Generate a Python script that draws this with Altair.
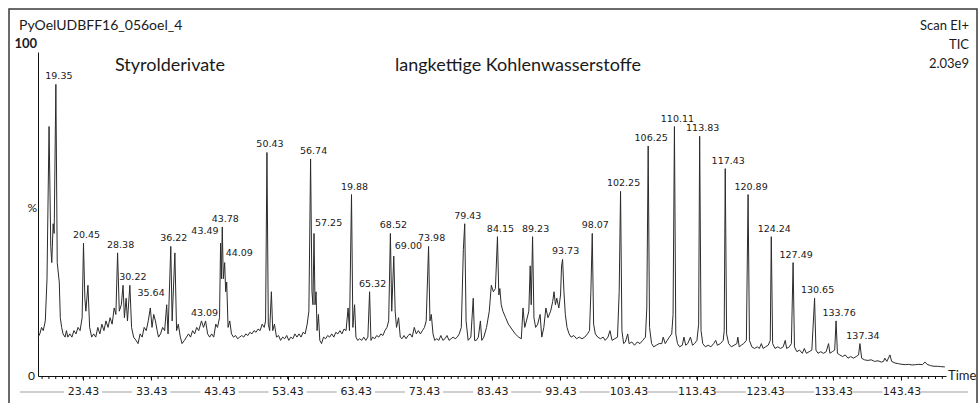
import altair as alt
import pandas as pd

# ---- chromatogram trace (retention time in min, relative intensity in %) ----
times = [16.85, 17.1, 17.35, 17.6, 17.9, 18.15, 18.45, 18.7, 18.85, 19.05, 19.2, 19.45, 19.65, 19.95, 20.1, 20.3, 20.5, 20.8,
         21.0, 21.2, 21.5, 21.8, 22.1, 22.4, 22.7, 23.0, 23.3, 23.5, 23.7, 23.85, 24.15, 24.4, 24.7, 25.0, 25.3, 25.6, 25.9,
         26.2, 26.5, 26.8, 27.1, 27.4, 27.7, 28.0, 28.25, 28.5, 28.75, 29.05, 29.3, 29.5, 29.75, 29.95, 30.3, 30.55, 30.85,
         31.2, 31.5, 31.8, 32.1, 32.4, 32.7, 33.0, 33.3, 33.55, 33.8, 34.05, 34.3, 34.5, 34.8, 35.1, 35.4, 35.7, 35.9, 36.3,
         36.5, 36.9, 37.15, 37.4, 37.7, 37.95, 38.3, 38.6, 38.9, 39.2, 39.5, 39.8, 40.1, 40.4, 40.8, 41.1, 41.4, 41.7, 42.0,
         42.3, 42.6, 42.9, 43.15, 43.45, 43.6, 43.72, 43.85, 44.0, 44.2, 44.35, 44.5, 44.7, 44.95, 45.2, 45.5, 45.8, 46.1,
         46.4, 46.7, 47.0, 47.3, 47.6, 47.9, 48.2, 48.5, 48.8, 49.1, 49.4, 49.7, 50.0, 50.2, 50.4, 50.6, 50.8, 51.05, 51.25,
         51.5, 51.8, 52.1, 52.4, 52.7, 53.0, 53.3, 53.6, 53.9, 54.2, 54.5, 54.8, 55.1, 55.4, 55.7, 56.0, 56.3, 56.55, 56.8,
         57.0, 57.15, 57.3, 57.45, 57.6, 57.75, 57.95, 58.15, 58.4, 58.7, 59.0, 59.3, 59.6, 59.9, 60.2, 60.5, 60.8, 61.1,
         61.4, 61.7, 62.0, 62.3, 62.5, 62.8, 63.0, 63.25, 63.45, 63.7, 64.0, 64.3, 64.6, 64.9, 65.2, 65.45, 65.65, 65.9,
         66.2, 66.5, 66.8, 67.1, 67.4, 67.7, 68.0, 68.25, 68.5, 68.7, 69.0, 69.2, 69.4, 69.7, 69.95, 70.2, 70.5, 70.8, 71.1,
         71.4, 71.7, 72.0, 72.3, 72.6, 72.9, 73.2, 73.5, 73.75, 74.1, 74.3, 74.5, 74.75, 75.0, 75.3, 75.6, 75.9, 76.2, 76.5,
         76.8, 77.1, 77.4, 77.7, 78.0, 78.3, 78.6, 78.9, 79.2, 79.4, 79.6, 79.9, 80.3, 80.65, 80.85, 81.1, 81.4, 81.7, 81.9,
         82.2, 82.6, 83.0, 83.3, 83.6, 83.9, 84.2, 84.4, 84.55, 84.75, 85.0, 85.4, 85.8, 86.3, 86.8, 87.3, 87.7, 87.95, 88.2,
         88.45, 88.8, 89.0, 89.15, 89.35, 89.55, 89.8, 90.1, 90.45, 90.7, 91.0, 91.3, 91.6, 92.0, 92.3, 92.5, 92.7, 92.9,
         93.2, 93.45, 93.6, 93.75, 93.95, 94.15, 94.4, 94.7, 95.0, 95.4, 95.8, 96.2, 96.6, 97.0, 97.4, 97.7, 97.9, 98.1, 98.3,
         98.55, 98.9, 99.3, 99.7, 100.0, 100.4, 100.7, 101.0, 101.4, 101.8, 102.05, 102.25, 102.45, 102.7, 102.95, 103.3,
         103.5, 103.9, 104.3, 104.7, 105.1, 105.5, 105.9, 106.1, 106.3, 106.5, 106.8, 107.1, 107.5, 107.9, 108.3, 108.5,
         108.8, 109.1, 109.4, 109.75, 109.95, 110.15, 110.35, 110.6, 110.9, 111.3, 111.55, 111.8, 112.1, 112.5, 112.8, 113.1,
         113.45, 113.7, 113.85, 114.05, 114.3, 114.7, 115.1, 115.5, 115.9, 116.2, 116.45, 116.9, 117.3, 117.45, 117.6, 117.8,
         118.1, 118.5, 118.9, 119.3, 119.45, 119.65, 119.95, 120.3, 120.7, 120.95, 121.15, 121.5, 121.9, 122.3, 122.6, 122.9,
         123.15, 123.5, 123.9, 124.2, 124.35, 124.55, 124.9, 125.3, 125.7, 126.1, 126.4, 126.6, 127.0, 127.3, 127.55, 127.75,
         128.1, 128.5, 128.9, 129.2, 129.5, 129.9, 130.3, 130.7, 130.9, 131.2, 131.6, 132.0, 132.4, 132.75, 132.95, 133.3,
         133.65, 133.85, 134.05, 134.4, 134.8, 135.2, 135.6, 136.0, 136.4, 136.8, 137.15, 137.35, 137.6, 138.0, 138.5, 139.0,
         139.5, 140.0, 140.5, 140.8, 141.0, 141.3, 141.75, 142.0, 142.5, 143.0, 143.5, 144.0, 144.5, 145.0, 145.5, 146.0,
         146.5, 146.9, 147.2, 147.7, 148.2, 148.7, 149.2, 149.8]
intensity = [12, 13, 15, 14, 17, 30, 77, 40, 35, 47, 44, 90, 35, 29, 18, 15, 13, 12,
             14, 12, 13, 12, 14, 13, 15, 14, 18, 41, 24, 20, 28, 15, 12, 13, 12, 15, 13,
             16, 14, 17, 15, 18, 16, 21, 19, 38, 20, 22, 28, 18, 24, 17, 28, 15, 12,
             11, 10, 13, 12, 15, 14, 17, 21, 15, 19, 17, 14, 12, 13, 15, 14, 22, 13, 40,
             17, 38, 14, 16, 12, 10, 11, 12, 13, 12, 14, 13, 15, 14, 17, 15, 17, 13, 12,
             13, 12, 16, 15, 18, 41, 30, 46, 30, 35, 26, 29, 15, 17, 13, 12, 12.5, 11.5,
             12, 12.5, 12, 13, 12.5, 13.5, 13, 14, 13.5, 14.5, 14, 16, 15, 17, 69, 16, 14, 26, 14,
             16, 12, 12.5, 11, 12, 11.5, 12.5, 11, 12, 11.5, 13, 12, 13, 12, 13.5, 13, 16, 20, 67,
             26, 22, 44, 22, 26, 14, 19, 11, 10, 12, 11.5, 12.5, 12, 13, 12, 13.5, 13, 14,
             13, 14.5, 14, 21, 14, 56, 15, 22, 12, 11, 11.5, 11, 12, 11, 12, 26, 11, 12,
             11.5, 12.5, 12, 13, 12.5, 14, 15, 17, 44, 20, 37, 20, 15, 18, 12, 11.5, 12.5, 11.5, 12.5,
             13, 12, 15, 13, 14, 13, 14, 15, 17, 40, 17, 19, 13, 11, 11.5, 11, 12.5, 11, 11.5,
             12.5, 11, 11.5, 12, 11.5, 12, 13, 15, 39, 47, 17, 11, 12, 24, 11, 11, 12, 17, 11,
             12, 15, 20, 28, 26, 27, 43, 25, 27, 22, 20, 18, 16, 14.5, 13, 12, 11.5, 21, 15,
             17, 20, 34, 22, 43, 18, 15, 16, 19, 12, 15, 21, 18, 20, 23, 26, 22, 24,
             21, 25, 34, 36, 26, 19, 15, 13, 12, 12.5, 11.5, 12, 11.5, 12, 13, 14, 26, 44, 16,
             13, 12, 11.5, 12, 11, 12, 14, 11, 11.5, 12, 26, 57, 14, 10, 10.5, 13,
             10, 10.5, 9.5, 10.5, 10, 11, 12, 21, 71, 15, 10, 9, 9.5, 10, 10, 12,
             10, 11, 12, 13, 19, 77, 13, 10, 9, 9.5, 12, 9.5, 10, 12, 9.5, 10,
             11, 16, 74, 14, 10, 9, 9.5, 9, 10, 11, 9.5, 10, 11, 14, 64, 13,
             10, 9, 9.5, 10, 12, 9, 9.5, 10, 11, 56, 11, 9, 8.5, 9, 8.5, 10,
             8.5, 9, 9.5, 11, 43, 10, 8.5, 9, 8.5, 9, 11, 8.5, 9, 10, 35, 9,
             7.5, 8, 7, 8.5, 7, 7.5, 8, 24, 8, 7, 7.5, 7, 7.5, 10, 7, 7.5,
             8, 17, 7, 6.5, 6, 6.5, 5.5, 6, 5.5, 6, 6.5, 10, 5.5, 5, 4.8, 5,
             4.5, 4.7, 4.3, 4.5, 5.5, 4.5, 6.5, 4.5, 4, 3.8, 3.6, 3.5, 3.6, 3.4, 3.5, 3.6,
             3.5, 4.3, 3.6, 3.2, 3.0, 3.0, 2.9, 2.8]

# ---- peak labels ----
lab_text = ["19.35", "20.45", "28.38", "30.22", "36.22", "43.09", "43.78", "50.43", "56.74", "19.88", "65.32",
            "68.52", "73.98", "79.43", "84.15", "89.23", "93.73", "98.07", "102.25", "106.25", "110.11", "113.83",
            "117.43", "120.89", "124.24", "127.49", "130.65", "133.76", "137.34"]
lab_time = [19.45, 23.5, 28.5, 30.3, 36.3, 40.8, 43.85, 50.4, 56.8, 62.8, 65.45,
            68.5, 74.1, 79.4, 84.2, 89.35, 93.75, 98.1, 102.25, 106.3, 110.15, 113.85,
            117.6, 120.95, 124.35, 127.55, 130.7, 133.85, 137.35]
lab_int = [90, 41, 38, 28, 40, 17, 46, 69, 67, 56, 26,
           44, 40, 47, 43, 43, 36, 44, 57, 71, 77, 74,
           64, 56, 43, 35, 24, 17, 10]
left_text = ["35.64", "43.49"]
left_time = [35.7, 43.6]
left_int = [22, 41]
right_text = ["44.09", "57.25", "69.00"]
right_time = [44.2, 57.3, 69.0]
right_int = [35, 44, 37]

tick_labels = [23.43, 33.43, 43.43, 53.43, 63.43, 73.43, 83.43, 93.43, 103.43, 113.43, 123.43, 133.43, 143.43]
minor_ticks = [round(17.43 + i, 2) for i in range(133)]

W, H = 908, 324
XDOM = [16.83, 149.97]
xscale = alt.Scale(domain=XDOM, nice=False, zero=False)
yscale = alt.Scale(domain=[0, 100], nice=False, zero=True)

trace = pd.DataFrame({"t": times, "v": intensity})
labs = pd.DataFrame({"lab": lab_text, "t": lab_time, "v": lab_int})
labsL = pd.DataFrame({"lab": left_text, "t": left_time, "v": left_int})
labsR = pd.DataFrame({"lab": right_text, "t": right_time, "v": right_int})
minor = pd.DataFrame({"t": minor_ticks})

# grey separator strokes between the time labels (MassLynx style)
seg_start = [14.2] + [v + 2.8 for v in tick_labels]
seg_end = [v - 2.8 for v in tick_labels] + [153.2]
segs = pd.DataFrame({"s": seg_start, "e": seg_end})

xaxis = alt.Axis(values=tick_labels, format=".2f", title=None, grid=False, tickSize=4, tickColor="#111",
                 domainColor="#111", domainWidth=1, labelFont="DejaVu Sans", labelFontSize=11,
                 labelColor="#222", labelPadding=5, labelOverlap=False, labelFlush=False)
yaxis = alt.Axis(title=None, grid=False, labels=False, ticks=False, domainColor="#111", domainWidth=1)

line = alt.Chart(trace).mark_line(color="#2b2b2b", strokeWidth=1, interpolate="linear").encode(
    x=alt.X("t:Q", scale=xscale, axis=xaxis),
    y=alt.Y("v:Q", scale=yscale, axis=yaxis),
)

minor_rule = alt.Chart(minor).mark_rule(color="#111", strokeWidth=1).encode(
    x=alt.X("t:Q", scale=xscale), y=alt.value(H), y2=alt.value(H + 3))

seprule = alt.Chart(segs).mark_rule(color="#cfcfcf", strokeWidth=2).encode(
    x=alt.X("s:Q", scale=xscale), x2="e:Q", y=alt.value(H + 16)
)

lbl_font = dict(font="DejaVu Sans", fontSize=9.5, color="#1a1a1a")
peak_labels = alt.Chart(labs).mark_text(align="center", baseline="middle", dx=3, dy=-8, **lbl_font).encode(
    x=alt.X("t:Q", scale=xscale), y=alt.Y("v:Q", scale=yscale), text="lab:N")
peak_labels_l = alt.Chart(labsL).mark_text(align="right", baseline="middle", dx=-2, dy=-12, **lbl_font).encode(
    x=alt.X("t:Q", scale=xscale), y=alt.Y("v:Q", scale=yscale), text="lab:N")
peak_labels_r = alt.Chart(labsR).mark_text(align="left", baseline="middle", dx=1, dy=-10, **lbl_font).encode(
    x=alt.X("t:Q", scale=xscale), y=alt.Y("v:Q", scale=yscale), text="lab:N")

one = pd.DataFrame({"k": [0]})
frame = alt.Chart(one).mark_rect(filled=False, stroke="#3a3a3a", strokeWidth=1.5).encode(
    x=alt.value(-29), x2=alt.value(939), y=alt.value(-43), y2=alt.value(352))


def txt(s, x, y, align="left", size=13, font="Lato", weight="normal", color="#1a1a1a"):
    return alt.Chart(one).mark_text(align=align, baseline="middle", font=font, fontSize=size,
                                    fontWeight=weight, color=color).encode(
        x=alt.value(x), y=alt.value(y), text=alt.value(s))


annots = [
    txt("PyOelUDBFF16_056oel_4", -19, -26, size=14),
    txt("100", -1, -8, align="right", size=13, weight="bold"),
    txt("%", -1, 156, align="right", size=12),
    txt("0", -3, 324, align="right", size=12),
    txt("Time", 910, 324, size=13),
    txt("Scan EI+", 931, -26, align="right", size=13),
    txt("TIC", 931, -7, align="right", size=13),
    txt("2.03e9", 931, 12, align="right", size=13),
    txt("Styrolderivate", 77, 14, size=18),
    txt("langkettige Kohlenwasserstoffe", 357, 14, size=18),
]

chart = alt.layer(frame, seprule, minor_rule, line, peak_labels, peak_labels_l, peak_labels_r, *annots).properties(
    width=W, height=H,
    autosize=alt.AutoSizeParams(type="none"),
    padding={"left": 38, "top": 52, "right": 33, "bottom": 27},
    background="white",
).configure_view(stroke=None)

chart.save("out.html", embed_options={"renderer": "svg", "actions": False})
